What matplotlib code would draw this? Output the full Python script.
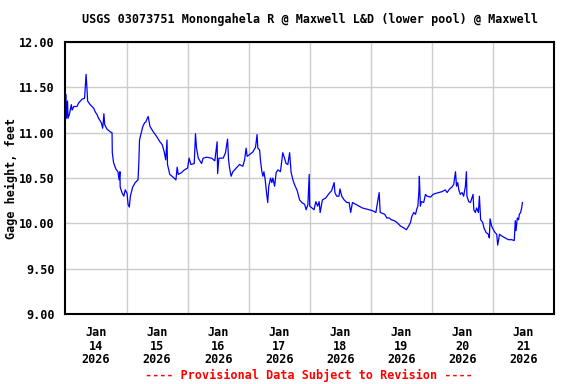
import pandas as pd
import matplotlib
matplotlib.use("Agg")
import matplotlib.pyplot as plt

# hours after 2026-01-14 00:00 and gage height (ft)
hours = [0.2, 0.4, 0.8, 1.0, 1.5, 2.3, 2.6, 3.3, 4.5, 5.2, 6.5, 7.5, 7.8, 8.1, 8.4, 8.7,
         9.7, 11.1, 11.7, 12.4, 13.0, 14.1, 14.6, 14.8, 15.1, 15.4, 16.3, 17.6, 18.3, 18.4,
         18.9, 19.8, 20.6, 21.1, 21.4, 21.5, 22.2, 22.9, 23.5, 24.2, 24.6, 25.1, 25.5, 26.4,
         27.4, 28.5, 28.8, 29.1, 29.8, 30.4, 31.1, 31.6, 32.0, 32.5, 33.2, 34.5, 35.8, 37.1,
         38.0, 38.8, 39.4, 39.9, 40.1, 41.0, 42.3, 43.4, 43.9, 44.3, 45.6, 46.7, 48.0, 48.6,
         49.3, 50.6, 51.1, 51.5, 52.2, 53.5, 54.1, 55.5, 57.4, 58.7, 59.6, 59.8, 60.3, 62.0,
         62.9, 63.7, 64.1, 64.5, 65.1, 65.8, 67.1, 68.4, 69.7, 70.4, 71.0, 71.4, 72.4, 73.7,
         74.7, 75.3, 75.6, 76.3, 76.7, 77.2, 77.6, 78.0, 78.5, 79.1, 79.5, 79.9, 80.6, 81.1,
         81.5, 82.2, 82.8, 83.5, 84.5, 85.4, 86.1, 86.7, 87.4, 88.1, 88.7, 89.4, 90.0, 91.1,
         92.0, 92.9, 94.0, 94.6, 95.3, 95.8, 96.0, 96.9, 97.7, 98.4, 99.1, 99.7, 100.1, 101.0,
         102.3, 103.6, 104.6, 105.6, 105.9, 106.6, 107.5, 107.9, 108.6, 109.5, 110.6, 111.5,
         112.1, 112.8, 114.1, 115.4, 116.7, 118.0, 119.3, 120.7, 122.0, 123.3, 123.7, 124.6,
         125.5, 126.3, 127.2, 128.1, 129.2, 130.3, 131.7, 133.0, 134.0, 134.9, 135.6, 136.2,
         136.9, 137.6, 138.0, 138.5, 138.9, 139.1, 139.5, 139.9, 140.8, 141.5, 142.1, 143.5,
         144.5, 145.4, 146.7, 148.0, 149.3, 150.0, 151.0, 151.9, 152.6, 153.3, 153.7, 154.2,
         154.6, 155.2, 155.9, 156.5, 157.2, 157.6, 157.8, 158.5, 159.2, 160.2, 160.5, 161.1,
         161.6, 162.3, 162.7, 163.2, 164.0, 164.5, 165.3, 166.2, 166.6, 166.9, 167.5, 168.2,
         168.8, 169.5, 169.9, 170.6, 171.5, 172.8, 174.1, 175.4, 176.4, 176.8, 177.1, 177.6,
         178.1, 178.4, 178.9, 179.3, 179.6]
height = [11.42, 11.16, 11.35, 11.16, 11.20, 11.31, 11.25, 11.29, 11.29, 11.33, 11.37, 11.38,
          11.51, 11.645, 11.51, 11.35, 11.31, 11.27, 11.23, 11.20, 11.16, 11.11, 11.05, 11.10,
          11.21, 11.09, 11.04, 11.01, 11.00, 10.78, 10.67, 10.60, 10.57, 10.48, 10.57, 10.40,
          10.34, 10.30, 10.37, 10.33, 10.21, 10.18, 10.30, 10.40, 10.45, 10.48, 10.65, 10.92,
          11.00, 11.07, 11.11, 11.12, 11.15, 11.18, 11.07, 11.01, 10.96, 10.90, 10.87, 10.79,
          10.70, 10.92, 10.65, 10.54, 10.51, 10.48, 10.62, 10.54, 10.56, 10.59, 10.61, 10.72,
          10.65, 10.66, 10.99, 10.83, 10.72, 10.66, 10.72, 10.73, 10.72, 10.69, 10.90, 10.55,
          10.72, 10.72, 10.78, 10.93, 10.70, 10.61, 10.52, 10.57, 10.61, 10.65, 10.63, 10.70,
          10.83, 10.74, 10.76, 10.79, 10.84, 10.98, 10.83, 10.81, 10.68, 10.57, 10.52, 10.57,
          10.48, 10.32, 10.23, 10.41, 10.50, 10.45, 10.50, 10.41, 10.56, 10.59, 10.57, 10.78,
          10.72, 10.66, 10.65, 10.78, 10.56, 10.48, 10.43, 10.36, 10.26, 10.23, 10.21, 10.15,
          10.21, 10.54, 10.19, 10.17, 10.15, 10.24, 10.19, 10.24, 10.12, 10.26, 10.28, 10.33,
          10.36, 10.45, 10.34, 10.30, 10.30, 10.38, 10.30, 10.26, 10.23, 10.23, 10.12, 10.23,
          10.21, 10.19, 10.17, 10.16, 10.15, 10.14, 10.12, 10.34, 10.12, 10.11, 10.10, 10.06,
          10.06, 10.04, 10.03, 10.01, 9.97, 9.95, 9.93, 9.97, 10.01, 10.08, 10.12, 10.10,
          10.15, 10.19, 10.34, 10.52, 10.19, 10.24, 10.23, 10.32, 10.30, 10.29, 10.32, 10.33,
          10.34, 10.35, 10.37, 10.34, 10.38, 10.40, 10.43, 10.57, 10.41, 10.45, 10.37, 10.32,
          10.34, 10.30, 10.41, 10.57, 10.30, 10.24, 10.23, 10.32, 10.15, 10.12, 10.17, 10.12,
          10.30, 10.04, 10.01, 9.95, 9.90, 9.88, 9.84, 10.05, 9.97, 9.93, 9.90, 9.88, 9.76,
          9.88, 9.86, 9.84, 9.82, 9.82, 9.81, 10.03, 9.92, 10.06, 10.04, 10.10, 10.12, 10.17,
          10.23]

day_labels = ["Jan\n14\n2026", "Jan\n15\n2026", "Jan\n16\n2026", "Jan\n17\n2026",
              "Jan\n18\n2026", "Jan\n19\n2026", "Jan\n20\n2026", "Jan\n21\n2026"]
y_ticks = [9.0, 9.5, 10.0, 10.5, 11.0, 11.5, 12.0]

start = pd.Timestamp("2026-01-14")
times = start + pd.to_timedelta(hours, unit="h")

plt.rcParams["font.family"] = "DejaVu Sans Mono"
plt.rcParams["font.weight"] = "bold"
fs = 8.5

fig = plt.figure(figsize=(5.76, 3.84), dpi=100)
ax = fig.add_axes([0.1137, 0.1823, 0.848, 0.708])

ax.plot(times, height, color="#0000ff", lw=0.9)

ax.set_xlim(start, start + pd.Timedelta(days=8))
ax.set_ylim(9, 12)

# gridlines at midnight, day labels centred at noon
midnights = [start + pd.Timedelta(days=d) for d in range(1, 8)]
noons = [start + pd.Timedelta(days=d, hours=12) for d in range(8)]
ax.set_xticks(midnights)
ax.set_xticklabels([])
ax.set_xticks(noons, minor=True)
ax.set_xticklabels(day_labels, minor=True, fontsize=fs, fontweight="bold", linespacing=1.05)
ax.tick_params(axis="x", which="both", length=0)
ax.tick_params(axis="x", which="minor", pad=9)

ax.set_yticks(y_ticks)
ax.set_yticklabels(["%.2f" % v for v in y_ticks], fontsize=fs, fontweight="bold")
ax.tick_params(axis="y", length=0, pad=8)

ax.grid(True, which="major", color="#cccccc", lw=1)
ax.set_axisbelow(True)
for s in ax.spines.values():
    s.set_linewidth(1.5)

ax.set_ylabel("Gage height, feet", fontsize=fs, fontweight="bold")
ax.yaxis.set_label_coords(-0.097, 0.5)
ax.set_title("USGS 03073751 Monongahela R @ Maxwell L&D (lower pool) @ Maxwell",
             fontsize=fs, fontweight="bold", pad=14)

fig.text(0.537, 0.023, "---- Provisional Data Subject to Revision ----",
         color="red", fontsize=fs, fontweight="bold", ha="center", va="center")

fig.savefig("out.png", dpi=100)
